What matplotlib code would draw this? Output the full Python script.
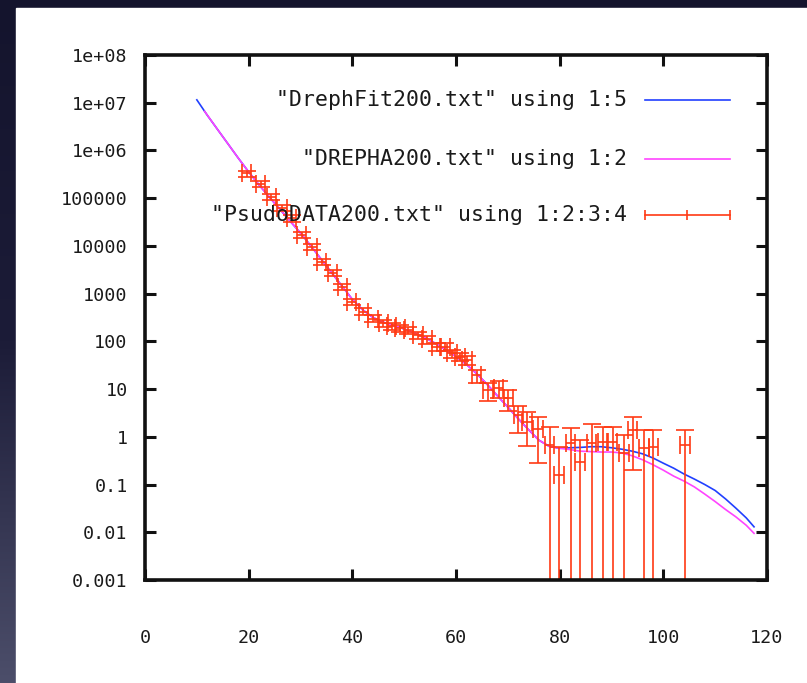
import numpy as np
import matplotlib
matplotlib.use("Agg")
import matplotlib.pyplot as plt
from matplotlib.colors import LinearSegmentedColormap
from matplotlib.patches import Rectangle
from matplotlib.ticker import NullLocator

# "DrephFit200.txt" using 1:5
fit_x = [10, 12, 14, 16, 18, 20, 22, 24, 26, 28, 30, 32, 34, 36, 38, 40, 42, 44, 46, 48,
         50, 52, 54, 56, 58, 60, 62, 64, 66, 68, 70, 72, 74, 76, 78, 80, 82, 84, 86, 88,
         90, 92, 94, 96, 98, 100, 102, 104, 106, 108, 110, 112, 114, 116, 117.5]
fit_y = [1.15e7, 5.5e6, 2.75e6, 1.38e6, 6.9e5, 3.55e5, 1.9e5, 1.05e5, 5.9e4, 3.3e4,
         1.86e4, 1.0e4, 5.25e3, 2.75e3, 1.45e3, 760, 457, 316, 251, 214,
         182, 151, 120, 91, 66, 48, 33, 21, 12.6, 7.2,
         4.2, 2.4, 1.41, 0.85, 0.63, 0.575, 0.59, 0.60, 0.62, 0.62,
         0.59, 0.55, 0.50, 0.44, 0.36, 0.28, 0.22, 0.166, 0.13, 0.10,
         0.075, 0.050, 0.032, 0.020, 0.013]

# "DREPHA200.txt" using 1:2
dre_x = [11.5, 14, 16, 18, 20, 22, 24, 26, 28, 30, 32, 34, 36, 38, 40, 42, 44, 46, 48,
         50, 52, 54, 56, 58, 60, 62, 64, 66, 68, 70, 72, 74, 76, 78, 80, 82, 84, 86, 88,
         90, 92, 94, 96, 98, 100, 102, 104, 106, 108, 110, 112, 114, 116, 117.5]
dre_y = [6.6e6, 2.75e6, 1.38e6, 6.9e5, 3.55e5, 1.9e5, 1.05e5, 5.9e4, 3.3e4,
         1.86e4, 1.0e4, 5.25e3, 2.75e3, 1.45e3, 760, 457, 316, 251, 214,
         182, 151, 120, 91, 66, 48, 33, 21, 12.6, 7.2,
         4.2, 2.4, 1.41, 0.85, 0.63, 0.575, 0.54, 0.50, 0.49, 0.48,
         0.48, 0.46, 0.40, 0.33, 0.26, 0.20, 0.15, 0.118, 0.089, 0.063,
         0.044, 0.030, 0.021, 0.014, 0.0095]

# "PsudoDATA200.txt" using 1:2:3:4
dat_x = [19.6, 22.3, 24.4, 26.4, 28.3, 30.2, 32.2, 34.1, 36.2, 38.1,
         39.9, 42.1, 44.0, 46.0, 47.6, 49.2, 50.8, 52.7, 54.4, 56.3,
         57.9, 59.2, 60.8, 62.1, 64.0, 66.2, 68.2, 70.1, 72.0, 73.7,
         75.8, 78.1, 79.9, 82.1, 83.9, 86.2, 88.3, 90.2, 92.4, 94.1,
         96.3, 98.1, 104.2]
dat_y = [3.3e5, 2.0e5, 1.07e5, 6.2e4, 3.8e4, 1.7e4, 9.6e3, 4.6e3, 2.7e3, 1.4e3,
         680, 420, 300, 240, 205, 188, 174, 135, 110, 77,
         77, 56, 48, 41, 19.7, 9.6, 10.5, 6.5, 2.8, 2.0,
         1.45, 0.68, 0.16, 0.75, 0.30, 0.75, 0.78, 0.78, 0.46, 1.4,
         0.58, 0.62, 0.68]
dat_ey = [5e4, 3e4, 1.6e4, 9e3, 6e3, 2.6e3, 1.5e3, 700, 400, 220,
          110, 70, 50, 40, 35, 32, 30, 24, 20, 15,
          15, 11, 10, 9, 6, 4, 4, 3, 1.6, 1.35,
          1.17, 0.92, 0.45, 0.8, 0.55, 1.15, 0.85, 0.8, 0.65, 1.2,
          0.8, 0.78, 0.72]
dat_ex = 0.9

xticks = [0, 20, 40, 60, 80, 100, 120]
yticks = [1e-3, 1e-2, 1e-1, 1, 10, 100, 1000, 1e4, 1e5, 1e6, 1e7, 1e8]
ylabels = ["0.001", "0.01", "0.1", "1", "10", "100", "1000", "10000", "100000",
           "1e+06", "1e+07", "1e+08"]
legend_labels = ['"DrephFit200.txt" using 1:5', '"DREPHA200.txt" using 1:2',
                 '"PsudoDATA200.txt" using 1:2:3:4']

BLUE = "#2140ff"; MAG = "#ff44ff"; RED = "#ff3a14"
FONT = "DejaVu Sans Mono"; FS = 15.5; TFS = 13.2
INK = "#1a1a1a"

W, H = 807, 683
fig = plt.figure(figsize=(W/100, H/100), dpi=100)

# window background + white canvas
bg = fig.add_axes([0, 0, 1, 1]); bg.axis("off")
cmap = LinearSegmentedColormap.from_list("bg", ["#14142d", "#1c1c38", "#4c4e6a"])
bg.imshow(np.linspace(0, 1, 256).reshape(-1, 1), cmap=cmap, aspect="auto",
          extent=[0, 1, 0, 1], origin="upper")
bg.add_patch(Rectangle((16/W, 0), 1, 1 - 8/H, color="white", transform=bg.transAxes))
bg.set_xlim(0, 1); bg.set_ylim(0, 1)

ax = fig.add_axes([145/W, 1 - 580/H, 622/W, 525/H])
ax.set_facecolor("none")
ax.set_yscale("log")

ax.plot(fit_x, fit_y, color=BLUE, lw=1.2)
ax.plot(dre_x, dre_y, color=MAG, lw=1.2)
ax.errorbar(dat_x, dat_y, xerr=dat_ex, yerr=dat_ey, fmt="none", ecolor=RED,
            elinewidth=1.2, capsize=6.5, capthick=1.2)

ax.set_xlim(0, 120); ax.set_ylim(1e-3, 1e8)
ax.set_xticks(xticks)
ax.set_xticklabels([str(v) for v in xticks], family=FONT, fontsize=TFS, color=INK)
ax.set_yticks(yticks)
ax.set_yticklabels(ylabels, family=FONT, fontsize=TFS, color=INK)
ax.yaxis.set_minor_locator(NullLocator())
ax.tick_params(direction="in", length=8, width=2.2, top=True, right=True, color="#111")
ax.tick_params(axis="x", pad=35)
ax.tick_params(axis="y", pad=12.5)
for s in ax.spines.values():
    s.set_linewidth(2.6); s.set_color("#111")

# gnuplot style key, text left of the sample
rows = [0.914, 0.802, 0.695]
for lab, yy, col in zip(legend_labels, rows, [BLUE, MAG, RED]):
    ax.text(0.775, yy, lab, ha="right", va="center", transform=ax.transAxes,
            family=FONT, fontsize=FS, color=INK)
    ax.plot([0.804, 0.9405], [yy, yy], transform=ax.transAxes, color=col, lw=1.2,
            clip_on=False)
ax.plot([0.804, 0.872, 0.9405], [rows[2]]*3, transform=ax.transAxes, ls="none",
        marker="|", ms=7, mew=1.2, color=RED, clip_on=False)

fig.savefig("out.png", dpi=100)
